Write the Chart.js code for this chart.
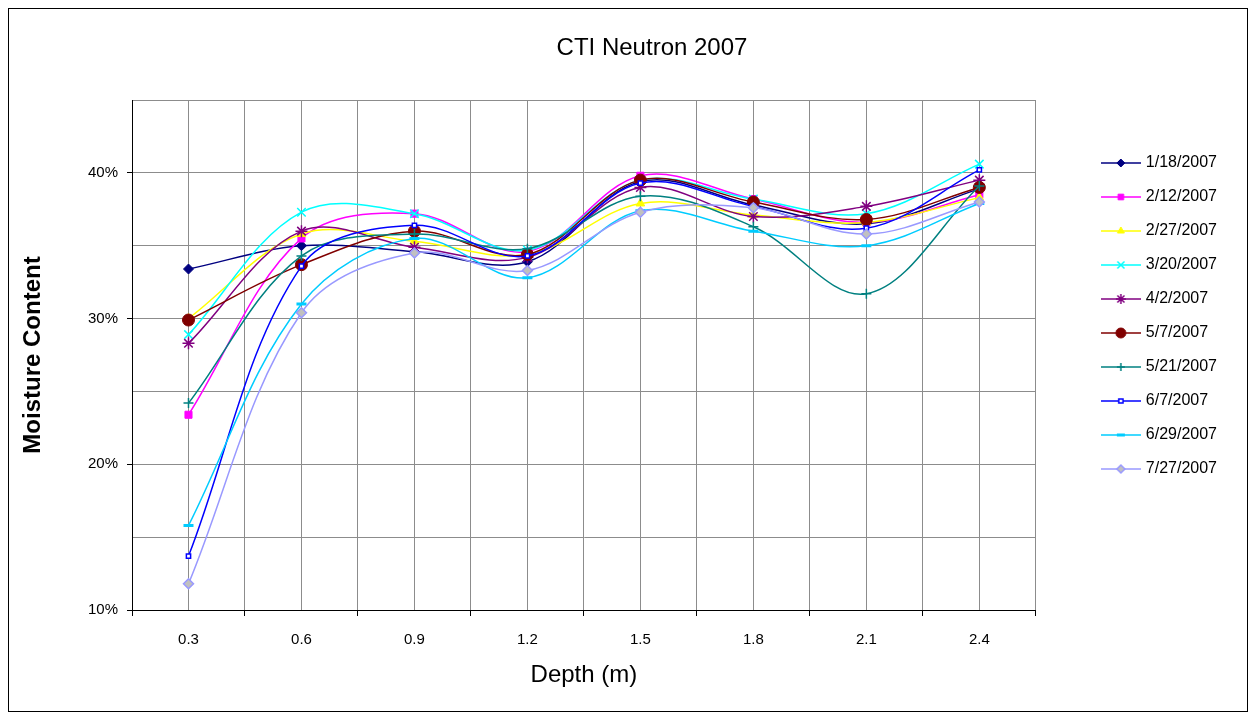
<!DOCTYPE html>
<html>
<head>
<meta charset="utf-8">
<script src="https://cdn.jsdelivr.net/npm/chart.js"></script>
<style>
  body { margin: 0; background: #fff; }
  #frame { position: absolute; left: 8px; top: 8px; width: 1238px; height: 702px; border: 1px solid #000; }
</style>
</head>
<body>
<div id="frame"><canvas id="neutronChart" width="1238" height="702"></canvas></div>
<script>
// depths (m) along the x axis
const depths = ['0.3', '0.6', '0.9', '1.2', '1.5', '1.8', '2.1', '2.4'];
const dates = ['1/18/2007', '2/12/2007', '2/27/2007', '3/20/2007', '4/2/2007',
               '5/7/2007', '5/21/2007', '6/7/2007', '6/29/2007', '7/27/2007'];

// moisture content (%) per reading date
const d0118 = [33.4, 35.0, 34.6, 33.9, 39.4, 37.8, 36.5, 38.9];
const d0212 = [23.4, 35.5, 37.2, 34.6, 39.8, 38.2, 36.6, 38.5];
const d0227 = [30.0, 35.8, 35.3, 34.4, 37.9, 37.1, 36.6, 38.3];
const d0320 = [28.9, 37.3, 37.2, 34.7, 39.5, 38.2, 37.2, 40.6];
const d0402 = [28.3, 36.0, 34.9, 34.2, 39.0, 37.0, 37.7, 39.5];
const d0507 = [29.9, 33.7, 36.0, 34.4, 39.5, 38.0, 36.8, 39.0];
const d0521 = [24.2, 34.3, 35.8, 34.8, 38.4, 36.3, 31.7, 39.1];
const d0607 = [13.7, 33.6, 36.4, 34.3, 39.3, 37.7, 36.2, 40.2];
const d0629 = [15.8, 31.0, 35.5, 32.8, 37.4, 36.0, 35.0, 37.9];
const d0727 = [11.8, 30.4, 34.5, 33.3, 37.3, 37.6, 35.8, 38.0];
const seriesValues = [d0118, d0212, d0227, d0320, d0402, d0507, d0521, d0607, d0629, d0727];

const yTicks = [10, 20, 30, 40];

// styles
const lineColors   = ['#000080', '#FF00FF', '#FFFF00', '#00FFFF', '#800080', '#800000', '#008080', '#0000FF', '#00CCFF', '#9999FF'];
const fillColors   = ['#000080', '#FF00FF', '#FFFF00', '#00FFFF', '#800080', '#800000', '#008080', '#FFFFFF', '#00CCFF', '#C0C0C0'];
const markerStyles = ['rectRot', 'rect', 'triangle', 'crossRot', 'star', 'circle', 'cross', 'rect', 'line', 'rectRot'];
const markerSizes  = [5, 5, 5, 6, 6, 6, 5, 3, 5, 5];
const markerWidths = [1, 1, 1, 1.5, 1.5, 1, 1.5, 1.5, 3, 1.5];
const gridColor = '#8c8c8c';

Chart.defaults.font.family = "'Liberation Sans', Arial, sans-serif";
Chart.defaults.color = '#000';

function legendIcon(i) {
  const c = document.createElement('canvas');
  c.width = 40; c.height = 14;
  const g = c.getContext('2d');
  g.strokeStyle = lineColors[i];
  g.lineWidth = 1.5;
  g.beginPath(); g.moveTo(0, 7); g.lineTo(40, 7); g.stroke();
  g.fillStyle = fillColors[i];
  g.strokeStyle = lineColors[i];
  g.lineWidth = markerWidths[i];
  Chart.helpers.drawPoint(g, {
    pointStyle: markerStyles[i], radius: Math.max(3, markerSizes[i] - 1),
    borderWidth: markerWidths[i], rotation: 0
  }, 20, 7);
  return c;
}
const legendIcons = dates.map((d, i) => legendIcon(i));

const ctx = document.getElementById('neutronChart').getContext('2d');
new Chart(ctx, {
  type: 'line',
  data: {
    labels: depths,
    datasets: dates.map((d, i) => ({
      label: d,
      data: seriesValues[i],
      borderColor: lineColors[i],
      backgroundColor: fillColors[i],
      borderWidth: 1.5,
      tension: 0.35,
      fill: false,
      pointStyle: markerStyles[i],
      pointRadius: markerSizes[i],
      pointHoverRadius: markerSizes[i],
      pointBackgroundColor: fillColors[i],
      pointBorderColor: lineColors[i],
      pointBorderWidth: markerWidths[i],
      order: dates.length - i
    }))
  },
  options: {
    responsive: false,
    animation: false,
    layout: { padding: { left: 68, right: 20, top: 0, bottom: 0 } },
    plugins: {
      title: {
        display: true,
        text: 'CTI Neutron 2007',
        color: '#000',
        font: { size: 24, weight: 'normal' },
        padding: { top: 24.6, bottom: 37.6 }
      },
      legend: {
        position: 'right',
        align: 'start',
        title: { display: true, text: '', font: { size: 10 }, padding: { top: 116, bottom: 0 } },
        labels: {
          usePointStyle: true,
          pointStyleWidth: 34,
          padding: 18,
          color: '#000',
          font: { size: 16 },
          sort: (a, b) => a.datasetIndex - b.datasetIndex,
          generateLabels: chart => Chart.defaults.plugins.legend.labels.generateLabels(chart)
            .map(l => Object.assign(l, { pointStyle: legendIcons[l.datasetIndex] }))
        }
      },
      tooltip: { enabled: true }
    },
    scales: {
      x: {
        type: 'category',
        offset: true,
        grid: { offset: true, color: gridColor, tickColor: '#000', tickLength: 6 },
        border: { color: '#000' },
        ticks: { color: '#000', font: { size: 15 }, padding: 15 },
        title: { display: true, text: 'Depth (m)', color: '#000', font: { size: 24 }, padding: { top: 0, bottom: 21.6 } },
        afterFit: s => { s.height = 101; }
      },
      x2: {
        type: 'category',
        labels: depths,
        position: 'bottom',
        offset: true,
        grid: { offset: false, color: gridColor, drawTicks: false },
        border: { display: false },
        ticks: { display: false },
        afterFit: s => { s.height = 0; }
      },
      y: {
        min: 10,
        max: 45,
        ticks: {
          stepSize: 5,
          color: '#000',
          font: { size: 15 },
          padding: 9,
          callback: v => yTicks.includes(v) ? v + '%' : ''
        },
        grid: {
          color: gridColor,
          tickLength: 5,
          tickColor: c => (c.tick && yTicks.includes(c.tick.value)) ? '#000' : 'rgba(0,0,0,0)'
        },
        border: { color: '#000' },
        title: { display: true, text: 'Moisture Content', color: '#000', font: { size: 24, weight: 'bold' }, padding: { top: -58.4, bottom: 0 } },
        afterFit: s => { s.width = 55; }
      },
      y2: {
        position: 'right',
        grid: { display: false },
        ticks: { display: false },
        border: { display: false },
        afterFit: s => { s.width = 50; }
      }
    }
  }
});
</script>
</body>
</html>
